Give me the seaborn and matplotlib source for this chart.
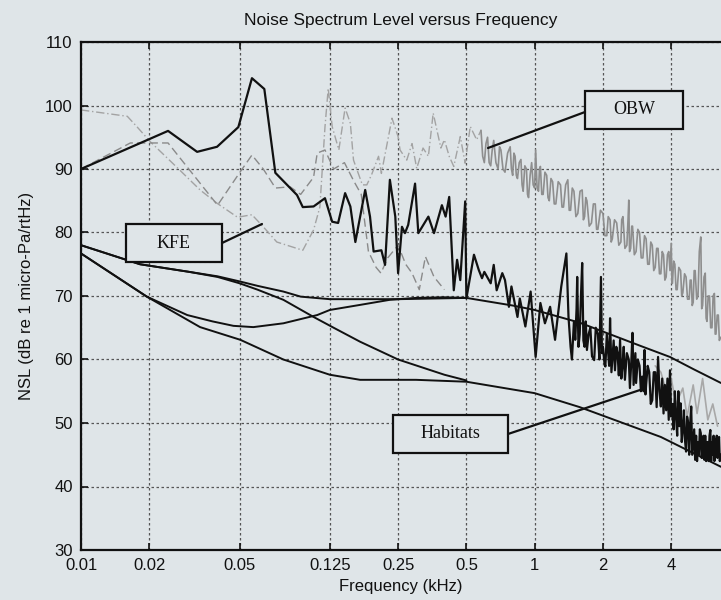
import numpy as np
import pandas as pd
import matplotlib
matplotlib.use("Agg")
import matplotlib.pyplot as plt
import seaborn as sns
from matplotlib.patches import Rectangle
from matplotlib.lines import Line2D

# ---------------- data ----------------
kfe_freq = [0.01, 0.0242, 0.0325, 0.0398, 0.0494, 0.0567, 0.0643, 0.0719, 0.0896, 0.095,
            0.106, 0.119, 0.128, 0.136, 0.146, 0.154, 0.162, 0.179, 0.188, 0.195,
            0.211, 0.219, 0.23, 0.243, 0.25, 0.26, 0.268, 0.277, 0.297, 0.307,
            0.34, 0.36, 0.39, 0.405, 0.42, 0.44, 0.455, 0.47, 0.494, 0.50,
            0.54, 0.567, 0.586, 0.6, 0.64, 0.66, 0.68, 0.72, 0.74, 0.77,
            0.79, 0.84, 0.86, 0.91, 0.96, 1.01, 1.06, 1.11, 1.17, 1.23,
            1.27, 1.31, 1.38,
            1.41, 1.44, 1.46, 1.49, 1.51, 1.53, 1.54, 1.56, 1.58, 1.6,
            1.62, 1.64, 1.66, 1.68, 1.7, 1.73, 1.76, 1.79, 1.83, 1.86,
            1.9, 1.93, 1.96, 1.98, 2.0, 2.03, 2.05, 2.08, 2.1, 2.13,
            2.15, 2.18, 2.2, 2.23, 2.26, 2.29, 2.32, 2.35, 2.38, 2.41,
            2.44, 2.47, 2.5, 2.55, 2.6, 2.63, 2.67, 2.7, 2.73, 2.75,
            2.78, 2.8, 2.85, 2.9, 2.94, 2.98, 3.02, 3.05, 3.08, 3.1,
            3.15, 3.2, 3.25, 3.3, 3.35, 3.4, 3.45, 3.5, 3.55, 3.6,
            3.65, 3.7, 3.75, 3.8, 3.85, 3.9, 3.95, 4.0, 4.05, 4.1,
            4.15, 4.2, 4.25, 4.3, 4.35, 4.4, 4.45, 4.5, 4.55, 4.6,
            4.65, 4.7, 4.75, 4.8, 4.85, 4.9, 4.95, 5.0, 5.05, 5.1,
            5.15, 5.2, 5.25, 5.3, 5.35, 5.4, 5.45, 5.5, 5.55, 5.6,
            5.65, 5.7, 5.75, 5.8, 5.85, 5.9, 5.95, 6.0, 6.05, 6.1,
            6.15, 6.2, 6.25, 6.3, 6.35, 6.4, 6.45, 6.5, 6.55, 6.6]
kfe_nsl = [90, 96, 92.7, 93.5, 96.6, 104.3, 102.6, 89.4, 85.9, 84,
           84.1, 85.4, 81.7, 81.5, 86.2, 84.1, 78.5, 86.7, 82.5, 77,
           77.2, 74.9, 88.3, 82.5, 73.6, 80.9, 79.9, 81.2, 87.7, 79.9,
           82.5, 79.9, 84.3, 82.5, 85.6, 70.9, 75.7, 72.5, 84.9, 69.6,
           76.5, 74.1, 72.8, 73.8, 72, 74.9, 70.9, 73.6, 72.5, 68.3,
           71.5, 66.7, 69.6, 65.2, 70.7, 60.4, 68.9, 65.7, 68.3, 63.1,
           67.3, 71.5, 76.7,
           66.7, 62, 60, 66, 63.1, 68, 73, 62, 64, 70,
           75.2, 63, 62, 66, 61.5, 64, 65, 60.5, 59.9, 65,
           64, 60, 73, 61, 62, 59.5, 58.9, 64, 62, 59,
           66.5, 58, 60, 63, 58.3, 62, 61, 57.5, 63.1, 57,
           59, 62, 56.8, 61, 60, 55.5, 60, 64.2, 56, 58,
           61, 56.3, 60, 59, 55, 57.3, 55, 61.5, 54.5, 56,
           59, 58, 53, 53.6, 58, 58, 52.5, 60.4, 55, 52.6,
           57, 51.5, 56, 52, 57, 50.5, 58.3, 51, 53, 49,
           55, 51, 48, 55, 49.5, 53.1, 47, 49, 52, 47.3,
           45.5, 51, 50, 45, 50, 52.6, 45, 47, 49, 44.2,
           48, 44, 47, 45, 49, 48.4, 44.5, 46, 48, 44.2,
           48, 44, 47, 47, 44, 48, 48.9, 44, 47, 45,
           48, 44, 47.5, 44.7, 48, 44.5, 47, 47.8, 44, 45]

obw_low_freq = [0.01, 0.016, 0.0177, 0.0202, 0.0273, 0.0335, 0.0398, 0.049, 0.0567, 0.0636,
                0.073, 0.095, 0.106, 0.113, 0.119, 0.123, 0.128, 0.137, 0.146, 0.154,
                0.159, 0.174, 0.182, 0.191, 0.205, 0.211, 0.235, 0.25, 0.255, 0.273,
                0.288, 0.302, 0.322, 0.34, 0.357, 0.386, 0.4, 0.42, 0.44, 0.47,
                0.494, 0.52, 0.555, 0.58]
obw_low_nsl = [99.3, 98.3, 96.6, 94.3, 89.8, 86.7, 84.6, 82.4, 82.8, 80.9,
               78.5, 77.2, 80.4, 84, 96.6, 102.7, 96.7, 93, 99.6, 97.2,
               91.4, 87.5, 87.5, 89.1, 92, 89.3, 98, 95.1, 93, 91.4,
               94, 90.1, 93.3, 92, 98.8, 93.3, 94.6, 92, 90.4, 95.1,
               90.9, 96.7, 94.6, 96.1]

obw_high_freq = [0.58, 0.59, 0.6, 0.61, 0.62, 0.63, 0.64, 0.65, 0.66, 0.675,
                 0.69, 0.70, 0.71, 0.725, 0.74, 0.76, 0.78, 0.79, 0.8, 0.81,
                 0.82, 0.83, 0.84, 0.855, 0.87, 0.88, 0.89, 0.905, 0.92, 0.93,
                 0.94, 0.955, 0.97, 0.985, 1.0, 1.01, 1.025, 1.04, 1.05, 1.06,
                 1.075, 1.09, 1.11, 1.13, 1.145, 1.16, 1.18, 1.2, 1.22, 1.24,
                 1.27, 1.3, 1.32, 1.34, 1.37, 1.4, 1.42, 1.44, 1.465, 1.49,
                 1.52, 1.55, 1.585, 1.62, 1.64, 1.66, 1.68, 1.7, 1.74, 1.78,
                 1.815, 1.85, 1.875, 1.9, 1.95, 2.0, 2.04, 2.08, 2.11, 2.15,
                 2.175, 2.2, 2.25, 2.3, 2.35, 2.4, 2.42, 2.45, 2.5, 2.55,
                 2.58, 2.6, 2.62, 2.65, 2.68, 2.7, 2.75, 2.8, 2.85, 2.9,
                 2.95, 3.0, 3.05, 3.1, 3.15, 3.2, 3.25, 3.3, 3.35, 3.4,
                 3.45, 3.5, 3.55, 3.6, 3.65, 3.7, 3.75, 3.8, 3.85, 3.9,
                 3.95, 4.0, 4.03, 4.05, 4.1, 4.15, 4.2, 4.25, 4.32, 4.4,
                 4.45, 4.5, 4.58, 4.65, 4.72, 4.8, 4.85, 4.9, 4.95, 5.0,
                 5.05, 5.1, 5.18, 5.25, 5.32, 5.4, 5.45, 5.5, 5.58, 5.65,
                 5.7, 5.75, 5.82, 5.9, 5.97, 6.05, 6.12, 6.2, 6.25, 6.3,
                 6.38, 6.45, 6.52, 6.6]
obw_high_nsl = [96.1, 92, 91, 94, 95, 91, 90.5, 93, 94.5, 91,
                90, 93.5, 93, 90, 89.5, 92.5, 93.5, 90, 89, 92.5,
                92, 89, 88.5, 91, 91.5, 87.5, 86.5, 90.5, 90, 86,
                85.5, 89, 91, 87.5, 87, 93, 87, 86.5, 90, 90.4,
                86, 86, 89.5, 89, 85.5, 85, 88.5, 88, 84.5, 84.5,
                88, 87.5, 84, 84, 87.5, 88.3, 83.5, 83.5, 87, 86.5,
                82.5, 83, 86.5, 86.7, 82, 82.5, 85.5, 85, 81, 81.5,
                84.5, 84.5, 80.5, 80.5, 83.5, 83, 79.5, 79.5, 82.5, 82,
                78.5, 79, 82, 81.5, 78, 78.5, 82, 82.5, 77.5, 78,
                82, 85.1, 77, 77.5, 81, 81, 76.5, 77, 80.5, 80,
                76, 76, 79.5, 79, 75, 75, 78.5, 78, 74, 74.5,
                77.5, 77.5, 73.5, 73.5, 77, 76.5, 72.5, 73, 76.5, 77,
                74, 78.3, 72, 72, 75.5, 75, 71, 71, 74.5, 74,
                70, 70.5, 73.5, 73, 69.5, 69.5, 72.5, 72.5, 68.5, 69,
                74, 74, 69.5, 70, 77, 79.3, 68, 68.5, 73, 73.6,
                66.5, 66, 70, 70, 65, 65, 70, 70.4, 64, 64,
                67, 67, 63, 63.5]

ref2_freq = [0.01, 0.0165, 0.0242, 0.04, 0.05, 0.0567, 0.0636, 0.072, 0.0835, 0.093,
             0.106, 0.11, 0.119, 0.13, 0.145, 0.16, 0.172, 0.185, 0.2, 0.21,
             0.225, 0.25, 0.27, 0.288, 0.31, 0.33, 0.36, 0.4]
ref2_nsl = [90, 94.1, 94.1, 84.3, 89.4, 92.2, 90, 87, 87.2, 86,
            88.7, 92.5, 93, 90, 91, 88, 86, 77, 74.5, 73.6,
            76, 78, 75, 73.6, 71, 76.2, 73, 71]

ref2_hf_freq = [3.4, 3.6, 3.8, 4.0, 4.2, 4.5, 4.7, 5.0, 5.2, 5.5, 5.8, 6.1, 6.4]
ref2_hf_nsl = [59, 58, 55, 57, 53, 55.5, 51, 56, 51.5, 57, 50.5, 53, 49.5]

hab_a_freq = [0.01, 0.0182, 0.03, 0.04, 0.05, 0.06, 0.078, 0.093, 0.125, 0.25, 0.5, 0.8, 1.0, 1.58, 2.0, 3.0, 3.95, 5.0, 6.63]
hab_a_nsl = [78, 75, 73.8, 73.1, 72.3, 71.6, 70.7, 69.9, 69.5, 69.5, 69.7, 68.5, 67.8, 65.8, 64.4, 62, 60.4, 58.5, 56.3]

hab_b_freq = [0.01, 0.0195, 0.0294, 0.038, 0.047, 0.0575, 0.078, 0.11, 0.125, 0.17, 0.23, 0.3, 0.4, 0.5]
hab_b_nsl = [76.7, 69.9, 67, 66, 65.3, 65.1, 65.7, 67, 67.8, 68.6, 69.4, 69.7, 69.8, 69.7]

hab_c_freq = [0.01, 0.0195, 0.0335, 0.0504, 0.078, 0.125, 0.17, 0.3, 0.5, 1.0, 1.58, 3.6, 6.63]
hab_c_nsl = [76.7, 69.9, 65.1, 63.1, 60, 57.6, 56.8, 56.8, 56.5, 54.7, 52.5, 47.8, 43.1]

hab_d_freq = [0.01, 0.0182, 0.03, 0.04, 0.05, 0.06, 0.078, 0.106, 0.13, 0.17, 0.25, 0.4, 0.5]
hab_d_nsl = [78, 75, 73.8, 73, 72, 71, 69.4, 66.7, 65, 62.8, 60, 57.6, 56.7]

x_ticks = [0.01, 0.02, 0.05, 0.125, 0.25, 0.5, 1, 2, 4]
x_tick_labels = ["0.01", "0.02", "0.05", "0.125", "0.25", "0.5", "1", "2", "4"]
y_ticks = [30, 40, 50, 60, 70, 80, 90, 100, 110]

# ---------------- style ----------------
BG = "#dfe5e8"
sns.set_style("ticks")
plt.rcParams["font.family"] = ["Liberation Sans", "DejaVu Sans"]

W, H = 721, 600
fig = plt.figure(figsize=(W / 100, H / 100), dpi=100, facecolor=BG)
ax = fig.add_axes([81 / W, 1 - 550 / H, (W - 81) / W, (550 - 42) / H])
ax.set_facecolor(BG)

def draw(fx, fy, **kw):
    sns.lineplot(x=fx, y=fy, ax=ax, sort=False, estimator=None, legend=False, **kw)

# OBW and related grey traces
draw(obw_low_freq, obw_low_nsl, color="#a3a3a3", lw=1.0, linestyle=(0, (6, 2, 1, 2)))
draw(obw_high_freq, obw_high_nsl, color="#8e8e8e", lw=1.2)
draw(ref2_freq, ref2_nsl, color="#8a8a8a", lw=1.0, linestyle=(0, (6, 3)))
draw(ref2_hf_freq, ref2_hf_nsl, color="#a8a8a8", lw=1.2)

# Habitats curves
for fx, fy in [(hab_a_freq, hab_a_nsl), (hab_b_freq, hab_b_nsl),
               (hab_c_freq, hab_c_nsl), (hab_d_freq, hab_d_nsl)]:
    draw(fx, fy, color="#111111", lw=1.4)

# KFE
draw(kfe_freq, kfe_nsl, color="#111111", lw=1.6)

ax.set_xscale("log")
ax.set_xlim(0.01, 6.63)
ax.set_ylim(30, 110)
ax.set_xticks(x_ticks)
ax.set_xticklabels(x_tick_labels)
ax.xaxis.set_minor_locator(matplotlib.ticker.NullLocator())
ax.set_yticks(y_ticks)
ax.tick_params(axis="both", which="major", direction="in", length=5, width=1.2,
               labelsize=12, colors="#111111", top=True, pad=6)
ax.grid(True, which="major", color="#555555", linestyle=(0, (2, 2)), linewidth=0.9)
ax.set_axisbelow(True)
for s in ["left", "bottom", "top"]:
    ax.spines[s].set_color("#111111")
    ax.spines[s].set_linewidth(1.6)
ax.spines["right"].set_visible(False)

ax.set_title("Noise Spectrum Level versus Frequency", fontsize=12.5, pad=12, color="#111111")
ax.set_xlabel("Frequency (kHz)", fontsize=12, labelpad=4, color="#111111")
ax.set_ylabel("NSL (dB re 1 micro-Pa/rtHz)", fontsize=12, labelpad=8, color="#111111")

# ---------------- annotation boxes (figure pixel coordinates) ----------------
def fx_(px):
    return px / W

def fy_(py):
    return 1 - py / H

def label_box(x0, y0, x1, y1, text, line_from, line_to):
    rect = Rectangle((fx_(x0), fy_(y1)), fx_(x1) - fx_(x0), fy_(y0) - fy_(y1),
                     transform=fig.transFigure, facecolor=BG, edgecolor="#111111",
                     linewidth=1.6, zorder=10)
    fig.add_artist(rect)
    ln = Line2D([fx_(line_from[0]), fx_(line_to[0])], [fy_(line_from[1]), fy_(line_to[1])],
                transform=fig.transFigure, color="#111111", lw=1.6, zorder=10)
    fig.add_artist(ln)
    fig.text(fx_((x0 + x1) / 2), fy_((y0 + y1) / 2), text, ha="center", va="center",
             fontsize=13, family=["Liberation Serif", "DejaVu Serif"], color="#111111", zorder=11)

label_box(126, 224, 222, 262, "KFE", (222, 243), (262, 224))
label_box(585, 91, 683, 129, "OBW", (585, 112), (488, 148))
label_box(393, 415, 508, 453, "Habitats", (508, 434), (640, 390))

fig.savefig("out.png", dpi=100, facecolor=BG)
